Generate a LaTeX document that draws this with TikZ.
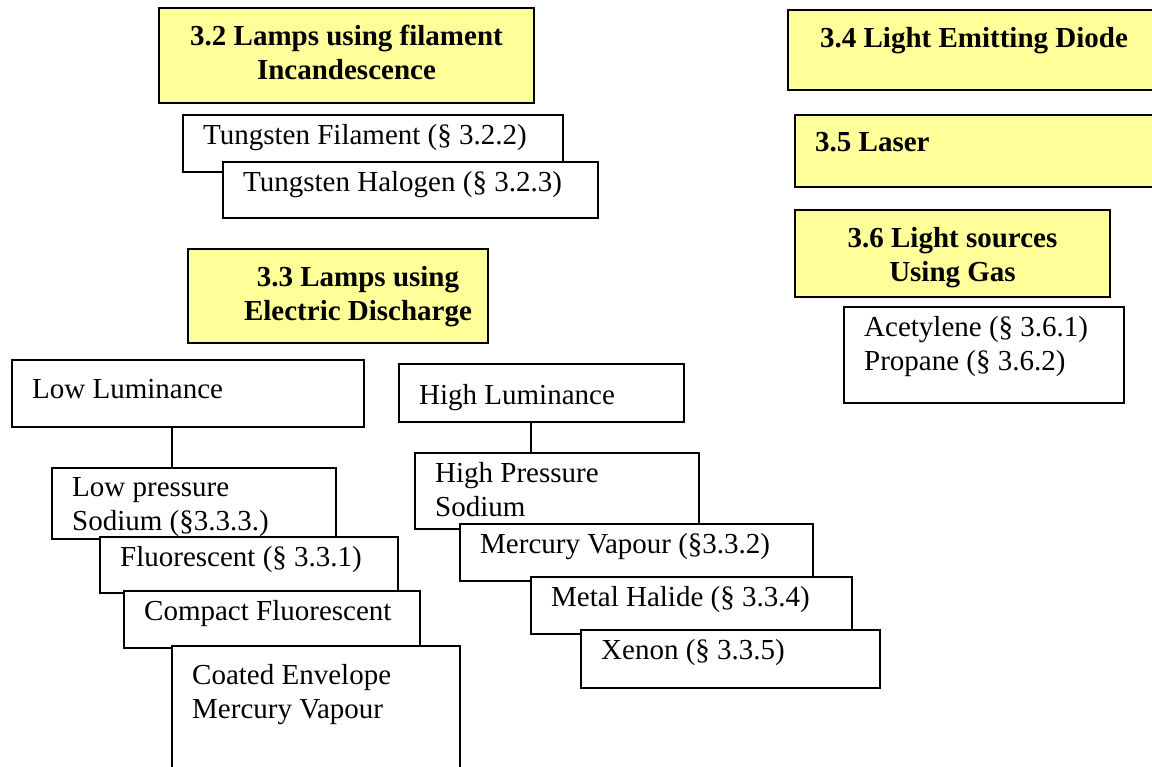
\documentclass[tikz,border=0pt]{standalone}
\usepackage{fontspec}
\setmainfont{Liberation Serif}
\usetikzlibrary{positioning}
\definecolor{lampyellow}{RGB}{255,255,153}

\begin{document}
\begin{tikzpicture}[x=1pt,y=-1pt,
  head/.style={draw,line width=2pt,fill=lampyellow,anchor=north west,inner sep=0pt},
  lamp/.style={draw,line width=2pt,fill=white,anchor=north west,inner sep=0pt},
  headtext/.style={anchor=north,align=center,inner xsep=0pt,inner ysep=18pt,
    font=\bfseries\fontsize{29}{34}\selectfont},
  lamptext/.style={anchor=north west,align=left,inner xsep=21pt,inner ysep=10pt,
    font=\fontsize{29}{34}\selectfont}]
  \useasboundingbox (0,0) rectangle (1152,767);
  \clip (0,0) rectangle (1152,767);

  % incandescent lamps
  \node[head,minimum width=375pt,minimum height=95pt,
    label={[headtext]north:3.2 Lamps using filament\\Incandescence}] (h32) at (158,7) {};
  \node[lamp,minimum width=380pt,minimum height=57pt,
    label={[lamptext]north west:Tungsten Filament (§ 3.2.2)}] (filament) at (182,114) {};
  \node[lamp,minimum width=375pt,minimum height=56pt,
    label={[lamptext]north west:Tungsten Halogen (§ 3.2.3)}] (halogen) at (222,161) {};

  % discharge lamps
  \node[head,minimum width=300pt,minimum height=94pt,
    label={[headtext,xshift=20pt]north:3.3 Lamps using\\Electric Discharge}] (h33) at (187,248) {};

  \node[lamp,minimum width=352pt,minimum height=67pt,
    label={[lamptext,yshift=-10pt]north west:Low Luminance}] (lowlum) at (11,359) {};
  \node[lamp,minimum width=284pt,minimum height=71pt,
    label={[lamptext]north west:Low pressure\\Sodium (§3.3.3.)}] (lpsodium) at (51,467) {};
  \node[lamp,minimum width=298pt,minimum height=56pt,
    label={[lamptext]north west:Fluorescent (§ 3.3.1)}] (fluor) at (99,536) {};
  \node[lamp,minimum width=296pt,minimum height=57pt,
    label={[lamptext]north west:Compact Fluorescent}] (compact) at (123,590) {};
  \node[lamp,minimum width=288pt,minimum height=140pt,
    label={[lamptext,yshift=-9pt]north west:Coated Envelope\\Mercury Vapour}] (coated) at (171,645) {};

  \node[lamp,minimum width=285pt,minimum height=58pt,
    label={[lamptext,yshift=-11pt]north west:High Luminance}] (highlum) at (398,363) {};
  \node[lamp,minimum width=284pt,minimum height=76pt,
    label={[lamptext]north west:High Pressure\\Sodium}] (hpsodium) at (414,452) {};
  \node[lamp,minimum width=353pt,minimum height=57pt,
    label={[lamptext]north west:Mercury Vapour (§3.3.2)}] (mercury) at (459,523) {};
  \node[lamp,minimum width=321pt,minimum height=57pt,
    label={[lamptext]north west:Metal Halide (§ 3.3.4)}] (halide) at (530,576) {};
  \node[lamp,minimum width=299pt,minimum height=58pt,
    label={[lamptext]north west:Xenon (§ 3.3.5)}] (xenon) at (580,629) {};

  \draw[line width=2pt] ([xshift=-16pt]lowlum.south) -- ([xshift=-16pt]lowlum.south |- lpsodium.north);
  \draw[line width=2pt] ([xshift=-11pt]highlum.south) -- ([xshift=-11pt]highlum.south |- hpsodium.north);

  % other sources
  \node[head,minimum width=372pt,minimum height=80pt,
    label={[headtext]north:3.4 Light Emitting Diode}] (h34) at (787,9) {};
  \node[head,minimum width=366pt,minimum height=72pt,
    label={[headtext,anchor=north west,inner xsep=21pt]north west:3.5 Laser}] (h35) at (794,114) {};
  \node[head,minimum width=315pt,minimum height=87pt,
    label={[headtext]north:3.6 Light sources\\Using Gas}] (h36) at (794,209) {};
  \node[lamp,minimum width=280pt,minimum height=96pt,
    label={[lamptext]north west:Acetylene (§ 3.6.1)\\Propane (§ 3.6.2)}] (gas) at (843,306) {};
\end{tikzpicture}
\end{document}
